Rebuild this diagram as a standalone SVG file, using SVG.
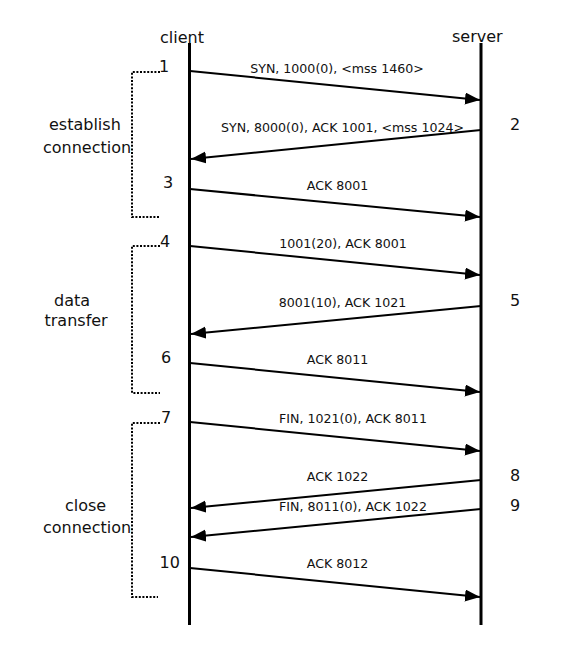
<svg xmlns="http://www.w3.org/2000/svg" width="583" height="645" viewBox="0 0 583 645">
<style>
.t{font-family:"DejaVu Sans",sans-serif;font-size:16px;fill:#111}
.m{font-family:"DejaVu Sans",sans-serif;font-size:12.6px;fill:#111;text-anchor:middle}
.life{stroke:#000;stroke-width:3;fill:none}
.msg{stroke:#000;stroke-width:2;fill:none;marker-end:url(#ah)}
.br{stroke:#000;stroke-width:2;fill:none;stroke-dasharray:2,1.6}
</style>
<defs>
<marker id="ah" markerUnits="userSpaceOnUse" markerWidth="16" markerHeight="13" refX="15" refY="6" orient="auto">
<path d="M0,0 L15,6 L0,12 z" fill="#000"/>
</marker>
</defs>
<rect width="583" height="645" fill="#fff"/>
<g id="client">
<line class="life" x1="189.5" y1="43" x2="189.5" y2="625"/>
<text class="t" x="160" y="43">client</text>
</g>
<g id="server">
<line class="life" x1="481" y1="43" x2="481" y2="625"/>
<text class="t" x="452" y="42">server</text>
</g>
<g id="phase-establish">
<path class="br" d="M160,72 H132 V217 H160"/>
<text class="t" x="49" y="130">establish</text>
<text class="t" x="43" y="153">connection</text>
</g>
<g id="phase-data">
<path class="br" d="M160,246 H132 V393 H160"/>
<text class="t" x="54" y="306">data</text>
<text class="t" x="44.5" y="326">transfer</text>
</g>
<g id="phase-close">
<path class="br" d="M160,423 H132 V597 H158"/>
<text class="t" x="65" y="511">close</text>
<text class="t" x="43" y="533">connection</text>
</g>
<g id="numbers">
<text class="t" x="159" y="72">1</text>
<text class="t" x="510" y="130">2</text>
<text class="t" x="163" y="188">3</text>
<text class="t" x="160" y="247">4</text>
<text class="t" x="510" y="306">5</text>
<text class="t" x="161" y="363">6</text>
<text class="t" x="161" y="423">7</text>
<text class="t" x="510" y="481">8</text>
<text class="t" x="510" y="510.5">9</text>
<text class="t" x="159.5" y="568">10</text>
</g>
<g id="connectors">
<line class="msg" x1="190" y1="71" x2="480" y2="100"/>
<line class="msg" x1="481" y1="130" x2="191" y2="159"/>
<line class="msg" x1="190" y1="189" x2="480" y2="217"/>
<line class="msg" x1="190" y1="246" x2="480" y2="275"/>
<line class="msg" x1="481" y1="306" x2="191" y2="334"/>
<line class="msg" x1="190" y1="363" x2="480" y2="392"/>
<line class="msg" x1="190" y1="422" x2="480" y2="451"/>
<line class="msg" x1="481" y1="480" x2="191" y2="508"/>
<line class="msg" x1="481" y1="509" x2="191" y2="537"/>
<line class="msg" x1="190" y1="568" x2="480" y2="597"/>
<text class="m" x="337" y="73">SYN, 1000(0), &lt;mss 1460&gt;</text>
<text class="m" x="342.5" y="131.5">SYN, 8000(0), ACK 1001, &lt;mss 1024&gt;</text>
<text class="m" x="337.5" y="190">ACK 8001</text>
<text class="m" x="343" y="248">1001(20), ACK 8001</text>
<text class="m" x="342.5" y="307">8001(10), ACK 1021</text>
<text class="m" x="337.5" y="364">ACK 8011</text>
<text class="m" x="353" y="422.5">FIN, 1021(0), ACK 8011</text>
<text class="m" x="337.5" y="481">ACK 1022</text>
<text class="m" x="353" y="510.5">FIN, 8011(0), ACK 1022</text>
<text class="m" x="337.5" y="568">ACK 8012</text>
</g>
</svg>
